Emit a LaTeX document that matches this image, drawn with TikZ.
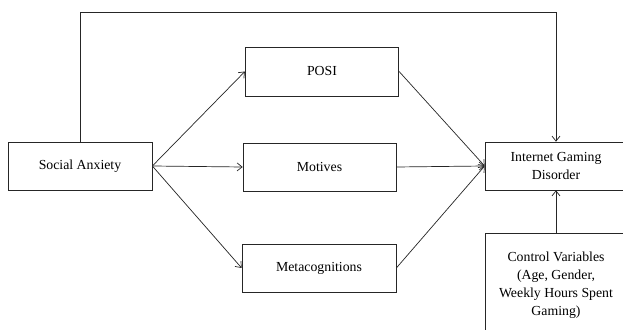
\documentclass[tikz,border=0pt]{standalone}
\usepackage{fontspec}
\setmainfont{Liberation Serif}
\usetikzlibrary{arrows.meta}
\begin{document}
\begin{tikzpicture}[x=1pt,y=1pt,
  box/.style={draw=black!85, line width=0.7pt, fill=white, inner sep=2pt, align=center,
    font=\fontsize{13.8}{18}\selectfont},
  conn/.style={draw=black!85, line width=0.7pt, -{Straight Barb[length=5pt,width=8pt]}}]
\useasboundingbox (0,0) rectangle (623,329);
\clip (0,0) rectangle (623,329);
\fill[white] (0,0) rectangle (623,329);
\node[box, minimum width=144pt, minimum height=48pt] (sa) at (80,163) {Social Anxiety};
\node[box, minimum width=153.5pt, minimum height=49pt] (posi) at (322,257.5) {POSI};
\node[box, minimum width=153pt, minimum height=48pt] (mot) at (319.5,162) {Motives};
\node[box, minimum width=154pt, minimum height=48pt] (meta) at (319,61) {Metacognitions};
\node[box, minimum width=142pt, minimum height=48pt] (igd) at (556,163) {Internet Gaming\\Disorder};
\node[box, minimum width=142pt, minimum height=105pt] (ctrl) at (556,43.5) {Control Variables\\(Age, Gender,\\Weekly Hours Spent\\Gaming)};
\coordinate (top) at (80,317);
\draw[conn] (sa.north) -- (top) -| (igd.north);
\draw[conn] (sa.east) -- (posi.west);
\draw[conn] (sa.east) -- (mot.west);
\draw[conn] (sa.east) -- (meta.west);
\draw[conn] (posi.east) -- (igd.west);
\draw[conn] (mot.east) -- (igd.west);
\draw[conn] (meta.east) -- (igd.west);
\draw[conn] (ctrl.north) -- (igd.south);
\end{tikzpicture}
\end{document}
